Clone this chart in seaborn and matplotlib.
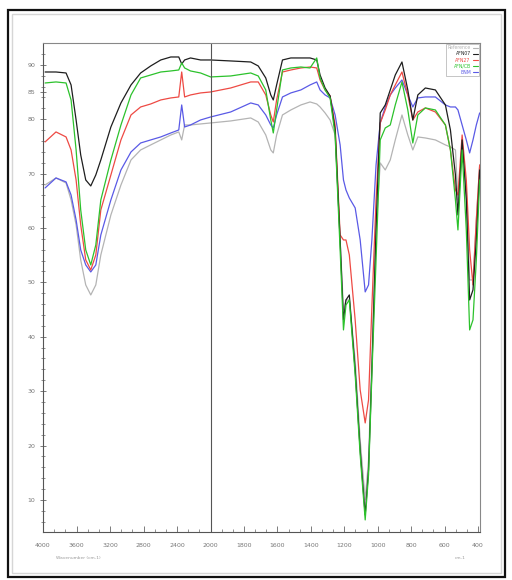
import numpy as np
import pandas as pd
import matplotlib
matplotlib.use("Agg")
import matplotlib.pyplot as plt
import seaborn as sns
from matplotlib.patches import Rectangle
from matplotlib.lines import Line2D

# ---------------- data ----------------
wavenumber = [3975, 3845, 3725, 3665, 3605, 3550, 3490, 3430, 3370, 3310,
              3190, 3070, 2950, 2835, 2715, 2595, 2475, 2380, 2345, 2310,
              2240, 2120, 2000, 1880, 1760, 1715, 1670, 1640, 1625, 1605,
              1570, 1520, 1460, 1405, 1365, 1345, 1315, 1285, 1255, 1225,
              1205, 1190, 1170, 1135, 1105, 1075, 1055, 1035, 1010, 985,
              955, 925, 895, 855, 820, 790, 760, 715, 655, 595,
              565, 535, 520, 495, 470, 450, 430, 410, 390]

black_T = [88.67, 88.67, 88.49, 86.29, 79.85, 73.42, 68.82, 67.72, 69.74, 72.50,
           78.56, 82.98, 86.29, 88.49, 89.78, 90.88, 91.43, 91.43, 90.15, 90.88,
           91.25, 90.88, 90.88, 90.70, 90.51, 89.78, 87.57, 84.45, 83.53, 86.29,
           90.88, 91.25, 91.25, 91.25, 90.88, 88.12, 85.73, 84.26, 78.01, 57.79,
           43.09, 46.76, 47.68, 33.90, 19.19, 7.24, 15.52, 33.90, 59.63, 81.14,
           82.61, 85.37, 88.12, 90.51, 85.37, 79.85, 84.45, 85.73, 85.37, 82.61,
           78.01, 69.74, 62.39, 76.18, 65.15, 46.76, 48.60, 57.79, 70.66]

red_T = [75.81, 77.65, 76.73, 74.34, 68.82, 60.55, 54.12, 52.28, 55.04, 63.31,
         69.74, 76.18, 80.77, 82.24, 82.79, 83.53, 83.90, 84.08, 88.67, 84.08,
         84.45, 84.82, 85.00, 85.73, 86.84, 86.84, 84.45, 80.77, 79.48, 83.53,
         88.67, 89.04, 89.41, 89.59, 89.41, 87.20, 85.37, 84.26, 78.93, 58.71,
         57.79, 57.79, 55.04, 43.09, 30.22, 24.15, 28.38, 45.48, 65.15, 79.30,
         81.69, 84.45, 86.29, 88.67, 84.45, 79.85, 81.32, 82.06, 81.32, 78.93,
         74.34, 66.98, 66.06, 77.09, 68.82, 55.96, 49.52, 61.47, 71.58]

green_T = [86.65, 86.84, 86.65, 83.53, 74.34, 63.31, 55.96, 53.20, 56.87, 65.15,
           72.50, 78.93, 84.45, 87.57, 88.12, 88.67, 88.86, 89.04, 90.33, 89.41,
           88.86, 88.49, 87.76, 87.94, 88.49, 87.94, 85.37, 79.85, 77.46, 81.69,
           89.04, 89.41, 89.59, 89.41, 91.25, 87.57, 85.37, 83.90, 77.09, 55.96,
           41.25, 45.84, 46.76, 32.98, 18.27, 6.32, 14.60, 32.98, 54.12, 76.18,
           78.38, 78.93, 82.61, 86.84, 81.69, 75.62, 80.77, 82.06, 81.69, 78.93,
           74.34, 65.15, 59.63, 74.34, 59.63, 41.25, 43.09, 54.12, 68.82]

blue_T = [67.35, 69.19, 68.46, 66.06, 61.47, 55.96, 53.20, 51.91, 53.20, 58.71,
          65.15, 70.66, 73.97, 75.62, 76.18, 76.73, 77.46, 78.01, 82.61, 78.56,
          78.93, 79.85, 80.40, 81.32, 82.98, 82.61, 80.77, 78.93, 78.38, 80.77,
          84.08, 84.82, 85.37, 86.29, 86.84, 85.37, 84.45, 83.90, 80.77, 75.26,
          68.82, 66.98, 65.51, 63.68, 57.79, 48.24, 49.52, 57.79, 71.58, 79.30,
          82.24, 84.45, 85.73, 87.20, 84.45, 82.24, 83.90, 84.08, 84.08, 82.61,
          82.24, 82.24, 81.69, 78.93, 76.18, 73.79, 76.18, 78.93, 81.14]

gray_T = [67.90, 69.19, 68.27, 65.15, 60.55, 54.12, 49.52, 47.68, 49.52, 55.04,
          62.39, 67.90, 72.50, 74.34, 75.26, 76.18, 77.09, 77.65, 76.18, 78.93,
          78.93, 79.12, 79.30, 79.67, 80.22, 79.48, 77.09, 74.34, 73.79, 77.09,
          80.77, 81.69, 82.61, 83.16, 82.79, 82.24, 81.14, 79.85, 77.09, 57.79,
          44.93, 46.76, 46.76, 35.73, 21.03, 10.00, 17.37, 35.73, 59.63, 71.95,
          70.66, 72.50, 76.18, 80.77, 77.09, 74.34, 76.73, 76.54, 76.18, 75.26,
          74.89, 74.34, 65.15, 75.26, 66.98, 50.44, 50.44, 61.47, 71.58]

series_names = ["Reference", "AFN07", "AFN27", "AFN/CB", "BNM"]
series_values = [gray_T, black_T, red_T, green_T, blue_T]
series_colors = ["#b4b4b4", "#1e1e1e", "#ee4a44", "#2cc22c", "#5a5ae6"]
draw_order = ["Reference", "BNM", "AFN27", "AFN07", "AFN/CB"]

x_major = [4000, 3600, 3200, 2800, 2400, 2000, 1800, 1600, 1400, 1200,
           1000, 800, 600, 400]
y_major = [10, 20, 30, 40, 50, 60, 70, 80, 85, 90]

# ---------------- build table ----------------
frames = []
for name, vals in zip(series_names, series_values):
    frames.append(pd.DataFrame({"wavenumber": wavenumber, "T": vals, "sample": name}))
df = pd.concat(frames, ignore_index=True)
palette = dict(zip(series_names, series_colors))

# ---------------- figure ----------------
sns.set_theme(style="white")
plt.rcParams["font.family"] = ["DejaVu Sans"]

W, H = 512, 580
fig = plt.figure(figsize=(W / 100, H / 100), dpi=100)
fig.patch.set_facecolor("white")
# outer frame of the picture
fig.patches.append(Rectangle((8 / W, 3 / H), 497 / W, 567 / H, transform=fig.transFigure,
                             fill=False, edgecolor="#111111", lw=1.6))
fig.patches.append(Rectangle((12 / W, 7 / H), 489 / W, 559 / H, transform=fig.transFigure,
                             fill=False, edgecolor="#d6d6d6", lw=1.0))

ax = fig.add_axes([43 / W, 48 / H, 437 / W, 489 / H])


# break in scale at 2000 cm-1: region above 2000 drawn at half density
def fwd(x):
    x = np.asarray(x, dtype=float)
    return np.where(x <= 2000, x, 2000 + (x - 2000) * 0.5015)


def inv(y):
    y = np.asarray(y, dtype=float)
    return np.where(y <= 2000, y, 2000 + (y - 2000) / 0.5015)


ax.set_xscale("function", functions=(fwd, inv))

for name in draw_order:
    sub = df[df["sample"] == name]
    sns.lineplot(data=sub, x="wavenumber", y="T", color=palette[name], ax=ax,
                 sort=False, lw=0.9, legend=False, estimator=None)

ax.axvline(2000, color="#555555", lw=0.8)

ax.set_xlim(4000, 388)
ax.set_ylim(4.1, 94.0)
ax.set_xticks(x_major)
ax.set_xticklabels([str(v) for v in x_major])
minor_x = []
for a, b in zip(x_major[:-1], x_major[1:]):
    minor_x += list(np.linspace(a, b, 4)[1:-1])
ax.set_xticks(minor_x, minor=True)
ax.set_yticks(y_major)
ax.set_yticklabels([str(v) for v in y_major])
ax.set_yticks(np.arange(6, 94, 2), minor=True)

ax.tick_params(axis="x", which="major", direction="in", length=4, width=0.6,
               labelsize=4.5, labelcolor="#777777", color="#666666", pad=8)
ax.tick_params(axis="x", which="minor", direction="in", length=2.5, width=0.5, color="#666666")
ax.tick_params(axis="y", which="major", direction="inout", length=5, width=0.6,
               labelsize=4.5, labelcolor="#777777", color="#666666", pad=3)
ax.tick_params(axis="y", which="minor", direction="inout", length=3, width=0.5, color="#666666")
ax.tick_params(left=True, bottom=True, which="both")

for side, sp in ax.spines.items():
    sp.set_linewidth(0.8)
    sp.set_color("#888888" if side in ("top", "right") else "#555555")

ax.set_xlabel("")
ax.set_ylabel("")
ax.text(0.03, -0.05, "Wavenumber (cm-1)", transform=ax.transAxes, fontsize=3.2,
        color="#999999", ha="left", va="top")
ax.text(0.955, -0.05, "cm-1", transform=ax.transAxes, fontsize=3.2,
        color="#999999", ha="center", va="top")

handles = [Line2D([0], [0], color=c, lw=0.8) for c in series_colors]
leg = ax.legend(handles, series_names, loc="upper right", fontsize=3.3, markerfirst=False,
                handlelength=1.0, handletextpad=0.5, borderpad=0.3, labelspacing=0.25,
                frameon=True, fancybox=False, edgecolor="#bbbbbb", framealpha=1,
                borderaxespad=0.2, labelcolor="linecolor")
leg.get_frame().set_linewidth(0.6)

fig.savefig("out.png", dpi=100, facecolor="white")
